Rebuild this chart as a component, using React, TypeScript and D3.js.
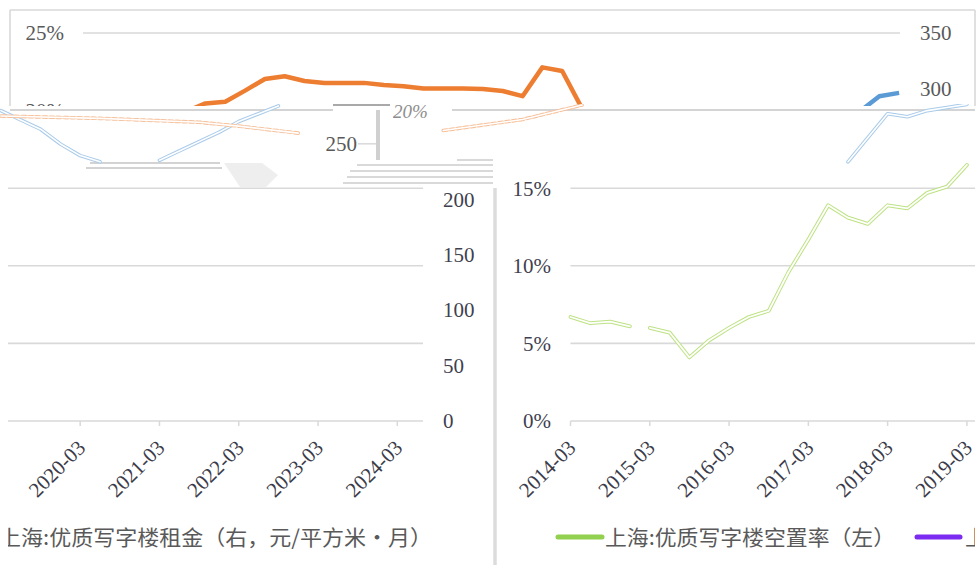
import * as d3 from "d3";

// quarterly series, index 0 = 2014-03, index 41 = 2024-06
const tickLabels = [
  "2014-03", "2015-03", "2016-03", "2017-03", "2018-03", "2019-03",
  "2020-03", "2021-03", "2022-03", "2023-03", "2024-03",
];
const pctTicks = [0, 5, 10, 15, 20, 25];
const rentTicks = [0, 50, 100, 150, 200, 250, 300, 350];

// 上海:优质写字楼空置率 (%), 2014-03 .. 2019-03
const vacancy = [
  6.7, 6.3, 6.4, 6.1, 6.0, 5.7, 4.1, 5.2, 6.0, 6.7, 7.1,
  9.6, 11.7, 13.9, 13.1, 12.7, 13.9, 13.7, 14.7, 15.1, 16.5,
];
const vacancyBreak = 4; // the reference drops the segment before this point

// traces visible in the top strip (right axis units)
const orangeStart = 5;
const orangeTrace = [
  279, 286.5, 288, 298, 308.5, 311, 306.7, 305, 305, 305, 303,
  302, 300, 300, 300, 299.5, 297.7, 293, 319, 315.7, 282, 262,
];
const blueStart = 39;
const blueTrace = [279, 293, 296];

// faint outline traces in the broken middle strip: [quarter, value]
const ghostBlueLeft: [number, number | null][] = [
  [20, 20.0], [21, 19.4], [22, 18.8], [23, 17.85], [24, 17.1], [25, 16.7],
  [26, null], [27, null],
  [28, 16.8], [29, 17.4], [30, 18.0], [31, 18.6], [32, 19.3], [33, 19.8], [34, 20.3],
];
const ghostOrangeLeft: [number, number][] = [
  [20, 19.65], [25, 19.5], [30, 19.25], [32, 19.0], [35, 18.55],
];
const ghostBlueRight: [number, number][] = [
  [14, 16.7], [16, 19.8], [17, 19.6], [18, 20.0], [19, 20.2], [20, 20.4],
];
const ghostOrangeRight: [number, number][] = [[18, 262], [22, 272], [25, 285]];

const legendVacancy = "上海:优质写字楼空置率（左）";
const legendRent = "上海:优质写字楼租金（右，元/平方米·月）";

const W = 980;
const H = 565;
const plotLeft = 81.5;
const plotRight = 900;
const step = 19.82;
const serif = "'Liberation Serif', 'Times New Roman', serif";
const cjk = "'Noto Sans CJK SC', 'Noto Sans', sans-serif";
const grid = "#d9d9d9";

const xQ = d3.scaleLinear().domain([0, 41]).range([plotLeft, plotLeft + step * 41]);
const yPct = d3.scaleLinear().domain([0, 25]).range([421, 33]);
const yRent = d3.scaleLinear().domain([0, 350]).range([421, 33]);

const seriesLine = (start: number, y: d3.ScaleLinear<number, number>) =>
  d3.line<number>().x((_, i) => xQ(start + i)).y((v) => y(v));

const pairLine = (y: d3.ScaleLinear<number, number>) =>
  d3.line<[number, number | null]>()
    .defined((d) => d[1] !== null)
    .x((d) => xQ(d[0]))
    .y((d) => y(d[1] as number));

// hollow look of the broken rendering: coloured edge, white core
const Hollow = ({ d, color, dash, edge = 4.2 }: { d: string; color: string; dash?: string; edge?: number }) => (
  <g fill="none" strokeLinejoin="round" strokeLinecap="round">
    <path d={d} stroke={color} strokeWidth={edge} strokeDasharray={dash} />
    <path d={d} stroke="#fff" strokeWidth={edge - 2} />
  </g>
);

// bottom part of the original chart; the picture shows its two halves swapped
const Lower = () => {
  const vac = seriesLine(0, yPct);
  return (
    <g>
      {pctTicks.map((t) => (
        <line key={t} x1={plotLeft} x2={plotRight} y1={yPct(t)} y2={yPct(t)} stroke={grid} strokeWidth={1.6} />
      ))}
      {tickLabels.map((lab, k) => (
        <g key={lab}>
          <line x1={xQ(k * 4)} x2={xQ(k * 4)} y1={421} y2={426} stroke={grid} strokeWidth={1.5} />
          <text
            transform={`translate(${xQ(k * 4) + 6.5},${449}) rotate(-45)`}
            textAnchor="end"
            fontFamily={serif}
            fontSize={21}
            fill="#3b3b4a"
          >
            {lab}
          </text>
        </g>
      ))}
      {pctTicks.map((t) => (
        <text key={t} x={62} y={yPct(t)} dy="0.35em" textAnchor="end" fontFamily={serif} fontSize={21} fill="#3f3f4f">
          {t}%
        </text>
      ))}
      {rentTicks.map((t) => (
        <text key={t} x={920} y={yRent(t)} dy="0.35em" fontFamily={serif} fontSize={21} fill="#3f3f4f">
          {t}
        </text>
      ))}
      <Hollow d={vac(vacancy.slice(0, vacancyBreak)) ?? ""} color="#bde283" edge={3.8} />
      <g transform={`translate(${xQ(vacancyBreak) - xQ(0)},0)`}>
        <Hollow d={vac(vacancy.slice(vacancyBreak)) ?? ""} color="#bde283" edge={3.8} />
      </g>
      <line x1={69} x2={113} y1={537} y2={537} stroke="#92d050" strokeWidth={5} strokeLinecap="round" />
      <text x={116} y={537} dy="0.36em" fontFamily={cjk} fontSize={21} fill="#595959" textLength={290} lengthAdjust="spacingAndGlyphs">
        {legendVacancy}
      </text>
      <line x1={428} x2={471} y1={537} y2={537} stroke="#7b2cf0" strokeWidth={5} strokeLinecap="round" />
      <text x={476} y={537} dy="0.36em" fontFamily={cjk} fontSize={21} fill="#595959" textLength={433} lengthAdjust="spacingAndGlyphs">
        {legendRent}
      </text>
    </g>
  );
};

// top strip of the original chart
const Top = () => {
  const orange = seriesLine(orangeStart, yRent);
  const blue = seriesLine(blueStart, yRent);
  return (
    <g>
      <line x1={10} x2={975} y1={10} y2={10} stroke={grid} strokeWidth={1.6} />
      <line x1={10} x2={10} y1={10} y2={110} stroke={grid} strokeWidth={1.6} />
      <line x1={975} x2={975} y1={10} y2={110} stroke={grid} strokeWidth={1.6} />
      <line x1={83} x2={plotRight} y1={yPct(25)} y2={yPct(25)} stroke={grid} strokeWidth={1.6} />
      {pctTicks.map((t) => (
        <text key={t} x={64} y={yPct(t)} dy="0.35em" textAnchor="end" fontFamily={serif} fontSize={21} fill="#595959">
          {t}%
        </text>
      ))}
      {rentTicks.map((t) => (
        <text key={t} x={920} y={yRent(t)} dy="0.35em" fontFamily={serif} fontSize={21} fill="#595959">
          {t}
        </text>
      ))}
      <g transform="translate(5,0)" fill="none" strokeWidth={4.5} strokeLinejoin="round">
        <path d={orange(orangeTrace) ?? ""} stroke="#ed7d31" />
        <path d={blue(blueTrace) ?? ""} stroke="#5b9bd5" />
      </g>
    </g>
  );
};

// horizontal fragments of the broken strip: [x1, x2, y, colour, width]
const glitchRules: [number, number, number, string, number][] = [
  [10, 333, 110, "#d4d4d4", 2],
  [452, 975, 110, "#d4d4d4", 2],
  [333, 390, 105, "#8c8c8c", 1.5],
  [90, 220, 163, "#a8a8a8", 1.2],
  [86, 222, 168, "#a8a8a8", 1.2],
  [457, 493, 160, "#b4b4b4", 1.2],
  [357, 493, 165, "#b4b4b4", 1.2],
  [350, 493, 171, "#b4b4b4", 1.2],
  [347, 493, 177, "#b4b4b4", 1.2],
  [343, 493, 183, "#b4b4b4", 1.2],
  [53, 443, 194, "#a0a0a0", 1.2],
  [37, 443, 203, "#a0a0a0", 1.2],
];

const Middle = () => {
  const pctPairs = pairLine(yPct);
  const rentPairs = pairLine(yRent);
  return (
    <g>
      {glitchRules.map(([x1, x2, y, c, w], i) => (
        <line key={i} x1={x1} x2={x2} y1={y} y2={y} stroke={c} strokeWidth={w} />
      ))}
      <polygon points="224,163 262,163 278,175 266,187 240,187" fill="#eeeeee" />
      <g transform="translate(-477,0)">
        <Hollow d={pctPairs(ghostBlueLeft) ?? ""} color="#a9cbea" edge={3.6} />
        <Hollow d={pctPairs(ghostOrangeLeft) ?? ""} color="#f6c09a" dash="4 3" edge={3.6} />
      </g>
      <g transform="translate(489,0)">
        <Hollow d={pctPairs(ghostBlueRight) ?? ""} color="#a9cbea" edge={3.6} />
      </g>
      <g transform="translate(5,0)">
        <Hollow d={rentPairs(ghostOrangeRight) ?? ""} color="#f6c09a" dash="4 3" edge={3.6} />
      </g>
      <text x={357} y={yRent(250)} dy="0.35em" textAnchor="end" fontFamily={serif} fontSize={21} fill="#595959">
        250
      </text>
      <line x1={358} x2={376} y1={yRent(250)} y2={yRent(250)} stroke="#cfcfcf" strokeWidth={1.2} />
      <line x1={378} x2={378} y1={110} y2={160} stroke="#d0d0d0" strokeWidth={4} />
      <text x={393} y={118} fontFamily={serif} fontStyle="italic" fontSize={19} fill="#7a7a7a" opacity={0.85}>
        20%
      </text>
    </g>
  );
};

export default function App() {
  return (
    <svg
      width={W}
      height={H}
      viewBox={`0 0 ${W} ${H}`}
      style={{ position: "absolute", left: 0, top: 0, background: "#fff" }}
    >
      <defs>
        <clipPath id="clipTop">
          <rect x={0} y={0} width={W} height={106} />
        </clipPath>
        <clipPath id="clipMid">
          <rect x={0} y={104} width={W} height={84} />
        </clipPath>
        <clipPath id="clipLR">
          <rect x={497} y={160} width={478} height={405} />
        </clipPath>
        <clipPath id="clipLL">
          <rect x={8} y={186} width={485} height={379} />
        </clipPath>
      </defs>
      <rect width={W} height={H} fill="#fff" />
      <g clipPath="url(#clipTop)">
        <Top />
      </g>
      <g clipPath="url(#clipMid)">
        <Middle />
      </g>
      <g clipPath="url(#clipLL)">
        <g transform="translate(-477,0)">
          <Lower />
        </g>
      </g>
      <g clipPath="url(#clipLR)">
        <g transform="translate(489,0)">
          <Lower />
        </g>
      </g>
      <line x1={495} x2={495} y1={188} y2={H} stroke="#dcdcdc" strokeWidth={3.5} />
    </svg>
  );
}
